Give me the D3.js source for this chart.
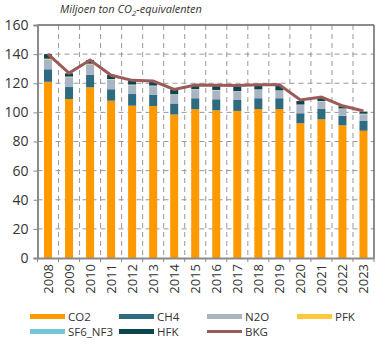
<!DOCTYPE html>
<html lang="nl">
<head>
<meta charset="UTF-8">
<title>Broeikasgassen</title>
<script src="https://d3js.org/d3.v7.min.js"></script>
<style>
  body { margin: 0; background: #fff; }
  text { font-family: "Open Sans", sans-serif; fill: #333; }
</style>
</head>
<body>
<div id="chart"></div>
<script>
// data
var years = ["2008","2009","2010","2011","2012","2013","2014","2015","2016","2017","2018","2019","2020","2021","2022","2023"];
var co2  = [121.0,109.2,117.2,108.0,104.6,104.4,98.5,102.2,101.4,101.0,102.3,102.3,92.5,95.2,91.1,87.4];
var ch4  = [8.6,8.2,8.5,7.9,8.0,7.8,7.6,7.5,7.6,7.5,7.4,7.4,6.9,7.1,6.6,6.7];
var n2o  = [6.4,6.7,7.3,6.5,6.0,5.8,6.0,5.9,6.0,5.7,5.7,5.0,5.6,5.1,4.6,4.6];
var pfk  = [0.6,0.3,0.3,0.3,0.3,0.2,0.2,0.2,0.2,0.2,0.2,0.2,0.2,0.2,0.2,0.2];
var sf6  = [0.3,0.2,0.2,0.2,0.2,0.2,0.2,0.2,0.2,0.2,0.2,0.2,0.2,0.2,0.2,0.2];
var hfk  = [3.1,2.2,2.5,2.9,3.0,3.0,3.3,2.6,2.6,3.1,3.0,3.0,2.4,2.0,1.5,1.4];
var bkg  = [140.0,127.0,136.0,125.5,122.0,121.5,115.8,118.8,118.6,118.4,119.0,119.0,108.5,110.5,104.5,101.0];
var yTicks = [0,20,40,60,80,100,120,140,160];

var series = [
  {key: "CO2", values: co2, color: "#ff9900"},
  {key: "CH4", values: ch4, color: "#2e6b80"},
  {key: "N2O", values: n2o, color: "#a9b5c2"},
  {key: "PFK", values: pfk, color: "#ffc83d"},
  {key: "SF6_NF3", values: sf6, color: "#72c6d6"},
  {key: "HFK", values: hfk, color: "#0b4550"}
];
var lineColor = "#9c5a5a";

var W = 391, H = 353;
var margin = {top: 25, right: 17, bottom: 95, left: 37.5};
var width = W - margin.left - margin.right,
    height = H - margin.top - margin.bottom;

var svg = d3.select("#chart").append("svg")
    .attr("width", W).attr("height", H);

// title
var title = svg.append("text")
    .attr("x", 60).attr("y", 13)
    .style("font-size", "11px")
    .style("font-style", "italic");
title.append("tspan").text("Miljoen ton CO");
title.append("tspan").attr("dy", 3).style("font-size", "8px").text("2");
title.append("tspan").attr("dy", -3).text("-equivalenten");

var g = svg.append("g")
    .attr("transform", "translate(" + margin.left + "," + margin.top + ")");

var x = d3.scaleBand().domain(years).range([0, width]).paddingInner(0).paddingOuter(0);
var y = d3.scaleLinear().domain([0, 160]).range([height, 0]);

// grid
g.append("g").selectAll("line")
  .data(yTicks.slice(1, -1)).enter().append("line")
  .attr("x1", 0).attr("x2", width)
  .attr("y1", function(d) { return y(d); }).attr("y2", function(d) { return y(d); })
  .attr("stroke", "#999").attr("stroke-dasharray", "5,4");

g.append("g").selectAll("line")
  .data(years.slice(1)).enter().append("line")
  .attr("x1", function(d) { return x(d); }).attr("x2", function(d) { return x(d); })
  .attr("y1", 0).attr("y2", height)
  .attr("stroke", "#999").attr("stroke-dasharray", "5,4");

// stacked bars
var table = years.map(function(yr, i) {
  var row = {year: yr};
  series.forEach(function(s) { row[s.key] = s.values[i]; });
  return row;
});
var stack = d3.stack().keys(series.map(function(s) { return s.key; }))(table);
var barW = 8;

g.append("g").selectAll("g")
  .data(stack).enter().append("g")
  .attr("fill", function(d, i) { return series[i].color; })
  .selectAll("rect")
  .data(function(d) { return d; }).enter().append("rect")
  .attr("x", function(d) { return x(d.data.year) + x.bandwidth() / 2 - barW / 2; })
  .attr("width", barW)
  .attr("y", function(d) { return y(d[1]); })
  .attr("height", function(d) { return y(d[0]) - y(d[1]); });

// BKG line
g.append("path")
  .datum(bkg)
  .attr("fill", "none")
  .attr("stroke", lineColor)
  .attr("stroke-width", 3)
  .attr("d", d3.line()
    .x(function(d, i) { return x(years[i]) + x.bandwidth() / 2; })
    .y(function(d) { return y(d); }));

// frame
g.append("line").attr("x1", 0).attr("x2", width).attr("y1", 0).attr("y2", 0)
  .attr("stroke", "#666").attr("stroke-width", 1.5);
g.append("line").attr("x1", width).attr("x2", width).attr("y1", 0).attr("y2", height)
  .attr("stroke", "#666").attr("stroke-width", 1.5);

// axes
var yAxis = g.append("g")
  .call(d3.axisLeft(y).tickValues(yTicks).tickSize(4).tickPadding(5));
yAxis.selectAll("text").style("font-size", "14px").style("fill", "#333");

var xAxis = g.append("g")
  .attr("transform", "translate(0," + height + ")")
  .call(d3.axisBottom(x).tickSize(0).tickPadding(6));
xAxis.selectAll("text")
  .style("font-size", "13px").style("fill", "#333")
  .attr("transform", "rotate(-90)")
  .attr("x", -6).attr("y", 0).attr("dy", "0.35em")
  .style("text-anchor", "end");
// tick marks between categories
xAxis.selectAll(".sep").data(years.concat(["end"])).enter().append("line")
  .attr("class", "sep")
  .attr("x1", function(d, i) { return i * x.step(); })
  .attr("x2", function(d, i) { return i * x.step(); })
  .attr("y1", 0).attr("y2", 4)
  .attr("stroke", "#888");

[yAxis, xAxis].forEach(function(a) {
  a.select(".domain").attr("stroke", "#8a8a8a").attr("stroke-width", 2);
  a.selectAll(".tick line").attr("stroke", "#888");
});

// legend
var legendItems = [
  {key: "CO2", color: "#ff9900", col: 0, row: 0},
  {key: "CH4", color: "#2e6b80", col: 1, row: 0},
  {key: "N2O", color: "#a9b5c2", col: 2, row: 0},
  {key: "PFK", color: "#ffc83d", col: 3, row: 0},
  {key: "SF6_NF3", color: "#72c6d6", col: 0, row: 1},
  {key: "HFK", color: "#0b4550", col: 1, row: 1},
  {key: "BKG", color: lineColor, col: 2, row: 1, line: true}
];
var legX = [30, 119, 207, 297], legY = [316.5, 331.5];
var leg = svg.append("g").selectAll("g")
  .data(legendItems).enter().append("g")
  .attr("transform", function(d) { return "translate(" + legX[d.col] + "," + legY[d.row] + ")"; });
leg.append("rect")
  .attr("x", 0).attr("width", 35)
  .attr("y", function(d) { return d.line ? -1.5 : -2.5; })
  .attr("height", function(d) { return d.line ? 3 : 5; })
  .attr("fill", function(d) { return d.color; });
leg.append("text")
  .attr("x", 38).attr("y", 0).attr("dy", "0.35em")
  .style("font-size", "11.5px")
  .text(function(d) { return d.key; });
</script>
</body>
</html>
